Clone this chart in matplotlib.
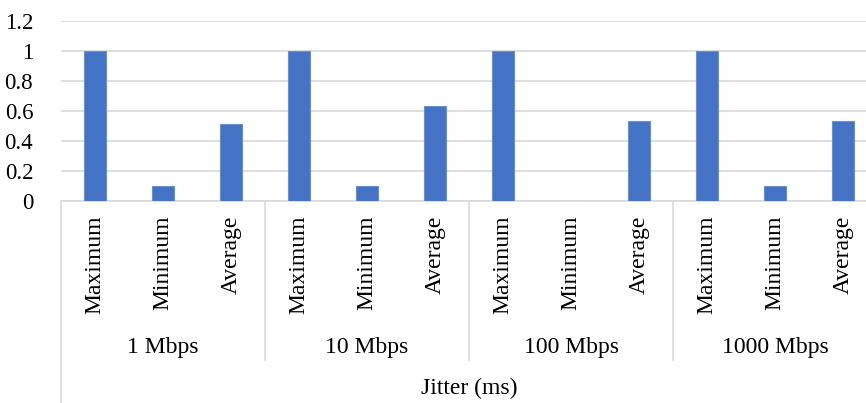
import numpy as np
import matplotlib
matplotlib.use('Agg')
import matplotlib.pyplot as plt
import matplotlib.transforms as mtransforms

groups = ['1 Mbps', '10 Mbps', '100 Mbps', '1000 Mbps']
stats = ['Maximum', 'Minimum', 'Average']
maximum = [1, 1, 1, 1]
minimum = [0.1, 0.1, 0, 0.1]
average = [0.51, 0.635, 0.53, 0.535]
outer_label = 'Jitter (ms)'

plt.rcParams['font.family'] = ['Liberation Serif', 'DejaVu Serif']

W, H = 866, 403
fig = plt.figure(figsize=(W / 100, H / 100), dpi=100)
# plot area in pixels: left 61, zero line at y=201, top (1.2) at y=20.7
ax = fig.add_axes([61 / W, (H - 201) / H, (W - 61) / W, (201 - 20.7) / H])

values = []
for i in range(len(groups)):
    values += [maximum[i], minimum[i], average[i]]
x = np.arange(len(values))
ax.bar(x, values, width=0.32, color='#4472C4', edgecolor='#6C8FD0', linewidth=0.8, zorder=3)

ax.set_ylim(0, 1.2)
ax.set_yticks(np.arange(0, 1.21, 0.2))
ax.set_yticklabels([f'{v:g}' for v in np.arange(0, 1.21, 0.2).round(1)], fontsize=16.5)
ax.set_xlim(-0.5, -0.5 + (W - 61) / 68)
ax.set_xticks([])
ax.tick_params(axis='y', length=0, pad=20)
ax.grid(axis='y', color='#D9D9D9', linewidth=1.2, zorder=0)
for s in ['left', 'right', 'top']:
    ax.spines[s].set_visible(False)
ax.spines['bottom'].set_color('#D9D9D9')
ax.spines['bottom'].set_linewidth(1.2)

# x in data, y in figure pixels from the top
tr = mtransforms.blended_transform_factory(ax.transData, fig.transFigure)
def fy(py):
    return 1 - py / H

for i, xi in enumerate(x):
    ax.text(xi, fy(216), stats[i % 3], rotation=90, ha='center', va='top',
            fontsize=17, transform=tr)
for g, name in enumerate(groups):
    ax.text(3 * g + 1, fy(347), name, ha='center', va='center', fontsize=17, transform=tr)
    if g > 0:
        ax.plot([3 * g - 0.5] * 2, [fy(201), fy(360)], color='#D9D9D9', lw=1.2,
                transform=tr, clip_on=False)
ax.plot([-0.5, -0.5], [fy(201), 0], color='#D9D9D9', lw=1.2, transform=tr, clip_on=False)
fig.text(469 / W, fy(388), outer_label, ha='center', va='center', fontsize=17)

fig.savefig('out.png', dpi=100)
